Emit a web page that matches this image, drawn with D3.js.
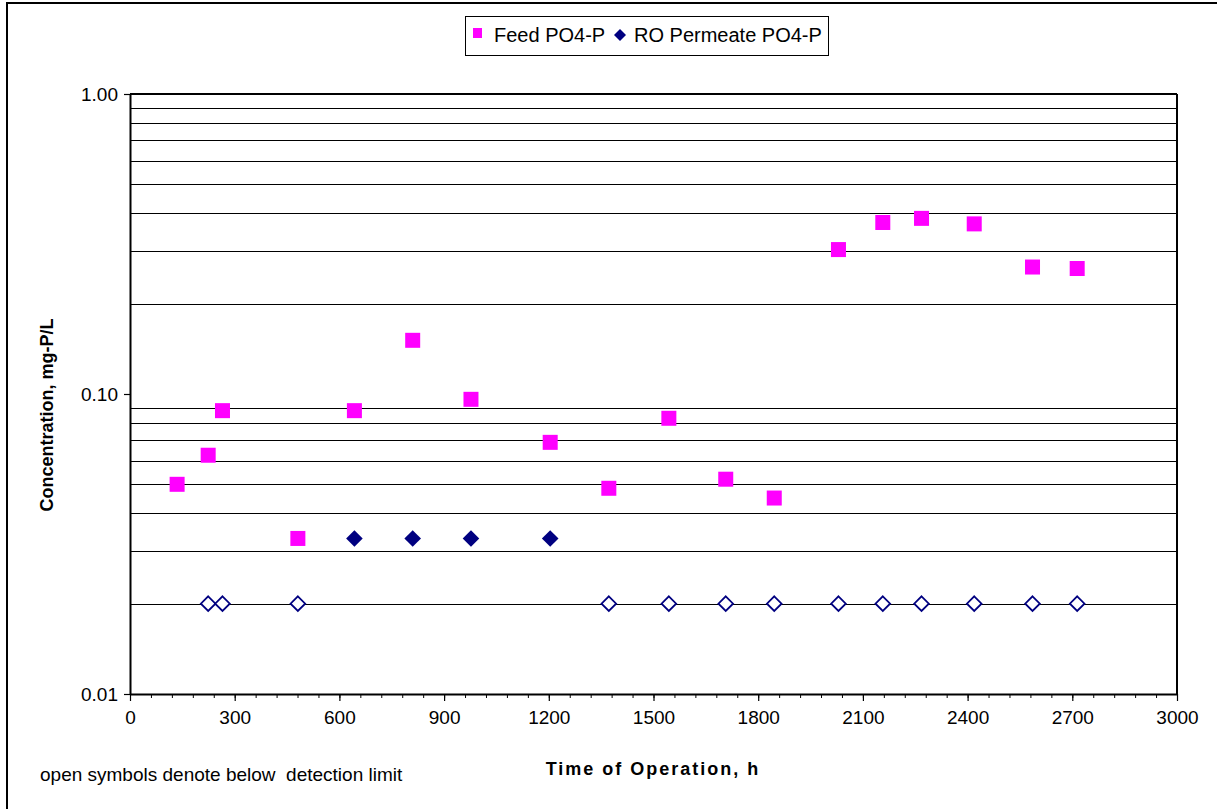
<!DOCTYPE html>
<html>
<head>
<meta charset="utf-8">
<script src="https://cdn.jsdelivr.net/npm/d3@7"></script>
<style>
  html, body { margin: 0; padding: 0; background: #fff; }
  svg { display: block; font-family: "Liberation Sans", Arial, sans-serif; }
</style>
</head>
<body>
<svg id="chart" width="1217" height="809"></svg>
<script>
// ---- data ----
const hours = [135, 224, 265, 481, 643, 810, 977, 1204, 1372, 1544, 1707, 1846, 2030, 2157, 2268, 2419, 2586, 2714];
const feedPO4 = [0.050, 0.0625, 0.088, 0.033, 0.088, 0.151, 0.096, 0.069, 0.0485, 0.083, 0.052, 0.045, 0.303, 0.373, 0.385, 0.369, 0.265, 0.262];
const permeatePO4 = [null, 0.02, 0.02, 0.02, 0.033, 0.033, 0.033, 0.033, 0.02, 0.02, 0.02, 0.02, 0.02, 0.02, 0.02, 0.02, 0.02, 0.02];
const permeateBelowDL = [false, true, true, true, false, false, false, false, true, true, true, true, true, true, true, true, true, true];
const xTickValues = [0, 300, 600, 900, 1200, 1500, 1800, 2100, 2400, 2700, 3000];
const yTickValues = [0.01, 0.1, 1];
const seriesNames = ["Feed PO4-P", "RO Permeate PO4-P"];

const svg = d3.select("#chart");
const plot = { left: 130, right: 1177, top: 94, bottom: 694 };

const x = d3.scaleLinear().domain([0, 3000]).range([plot.left, plot.right]);
const y = d3.scaleLog().domain([0.01, 1]).range([plot.bottom, plot.top]);

// outer chart border (only top/left visible)
svg.append("rect").attr("x", 7).attr("y", 3).attr("width", 1400).attr("height", 1000)
  .attr("fill", "none").attr("stroke", "#000").attr("stroke-width", 2);

// gridlines at every log minor value
const gridVals = [];
[0.01, 0.1].forEach(d => { for (let k = 2; k <= 9; k++) gridVals.push(+(d * k).toFixed(3)); });
svg.append("g").selectAll("line").data(gridVals).join("line")
  .attr("x1", plot.left).attr("x2", plot.right)
  .attr("y1", d => Math.round(y(d)) + 0.5).attr("y2", d => Math.round(y(d)) + 0.5)
  .attr("stroke", "#000").attr("stroke-width", 1);

// plot frame: top and right
svg.append("line").attr("x1", plot.left).attr("x2", plot.right).attr("y1", y(1)).attr("y2", y(1))
  .attr("stroke", "#000").attr("stroke-width", 2);
svg.append("line").attr("x1", plot.right).attr("x2", plot.right).attr("y1", plot.top).attr("y2", plot.bottom)
  .attr("stroke", "#000").attr("stroke-width", 2);

// x axis minor ticks
const minorX = d3.range(0, 3001, 60);
const xMinor = svg.append("g").attr("transform", `translate(0,${plot.bottom})`)
  .call(d3.axisBottom(x).tickValues(minorX).tickSize(4).tickFormat(""));
xMinor.select(".domain").remove();
xMinor.selectAll("line").attr("stroke-width", 1);

// x axis major
const xAx = svg.append("g").attr("transform", `translate(0,${plot.bottom})`)
  .call(d3.axisBottom(x).tickValues(xTickValues).tickSize(7).tickSizeOuter(0).tickPadding(10).tickFormat(d3.format("d")));
xAx.select(".domain").attr("stroke-width", 2);
xAx.selectAll("line").attr("stroke-width", 1.2);
xAx.selectAll("text").attr("font-size", 19).attr("fill", "#000")
  .attr("font-family", "'Liberation Sans', Arial, sans-serif");

// y axis
const yAx = svg.append("g").attr("transform", `translate(${plot.left},0)`)
  .call(d3.axisLeft(y).tickValues(yTickValues).tickSize(6).tickSizeOuter(0).tickPadding(6).tickFormat(d3.format(".2f")));
yAx.select(".domain").attr("stroke-width", 2);
yAx.selectAll("line").attr("stroke-width", 1.2);
yAx.selectAll("text").attr("font-size", 19).attr("fill", "#000")
  .attr("font-family", "'Liberation Sans', Arial, sans-serif");

// markers
const diamondPath = r => `M0,${-r}L${r},0L0,${r}L${-r},0Z`;
const sq = 15;

const feedPts = hours.map((h, i) => ({ h, v: feedPO4[i] })).filter(d => d.v != null);
svg.append("g").selectAll("rect").data(feedPts).join("rect")
  .attr("x", d => x(d.h) - sq / 2).attr("y", d => y(d.v) - sq / 2)
  .attr("width", sq).attr("height", sq).attr("fill", "#FF00FF");

const permPts = hours.map((h, i) => ({ h, v: permeatePO4[i], bdl: permeateBelowDL[i] })).filter(d => d.v != null);
svg.append("g").selectAll("path").data(permPts).join("path")
  .attr("transform", d => `translate(${x(d.h)},${y(d.v)})`)
  .attr("d", d => d.bdl ? diamondPath(7.3) : diamondPath(8.3))
  .attr("fill", d => d.bdl ? "#fff" : "#000080")
  .attr("stroke", "#000080")
  .attr("stroke-width", d => d.bdl ? 1.8 : 0);

// legend
const lg = svg.append("g");
lg.append("rect").attr("x", 465.5).attr("y", 16.5).attr("width", 363).attr("height", 39)
  .attr("fill", "#fff").attr("stroke", "#000").attr("stroke-width", 1);
lg.append("rect").attr("x", 473).attr("y", 28).attr("width", 9).attr("height", 10).attr("fill", "#FF00FF");
lg.append("text").attr("x", 494).attr("y", 42).attr("font-size", 20).text(seriesNames[0]);
lg.append("path").attr("transform", "translate(620,35)").attr("d", diamondPath(6)).attr("fill", "#000080");
lg.append("text").attr("x", 634).attr("y", 42).attr("font-size", 20).text(seriesNames[1]);

// axis titles
svg.append("text").attr("x", 653).attr("y", 775)
  .attr("text-anchor", "middle").attr("font-size", 18).attr("font-weight", "bold")
  .attr("letter-spacing", 2).text("Time of Operation, h");
svg.append("text").attr("transform", `translate(53,415) rotate(-90)`)
  .attr("text-anchor", "middle").attr("font-size", 18).attr("font-weight", "bold")
  .text("Concentration, mg-P/L");

// footnote
svg.append("text").attr("x", 40).attr("y", 781).attr("font-size", 19)
  .attr("xml:space", "preserve").style("white-space", "pre")
  .text("open symbols denote below  detection limit");
</script>
</body>
</html>
